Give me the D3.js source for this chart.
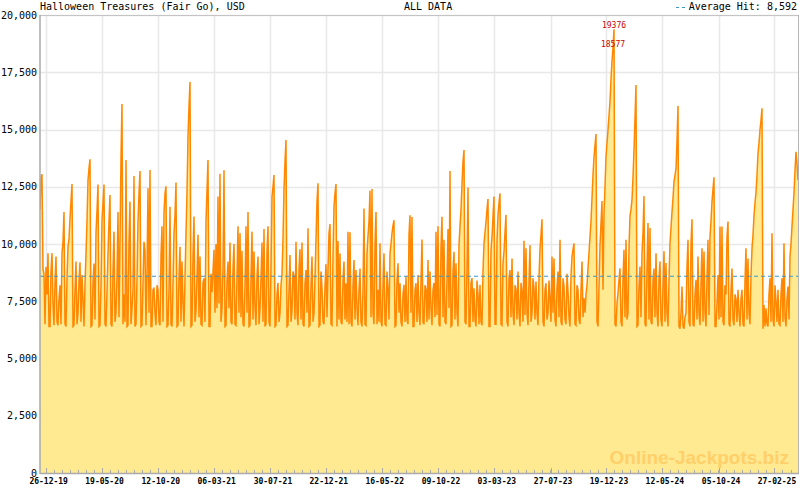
<!DOCTYPE html>
<html><head><meta charset="utf-8">
<script src="https://cdn.jsdelivr.net/npm/d3@7"></script>
<style>body{margin:0;background:#fff}</style>
</head><body>
<svg id="chart" width="800" height="490"></svg>
<script>
const chartTitle = "Halloween Treasures (Fair Go), USD";
const rangeLabel = "ALL DATA";
const averageHit = 8592;
const averageLabel = "Average Hit: 8,592";
const watermark = "Online-Jackpots.biz";
const startDate = "2019-12-10";
const endDate = "2025-04-29";
const xTickDates = ["2019-12-26","2020-05-19","2020-10-12","2021-03-06","2021-07-30","2021-12-22","2022-05-16","2022-10-09","2023-03-03","2023-07-27","2023-12-19","2024-05-12","2024-10-05","2025-02-27"];
const xTickLabels = ["26-12-19","19-05-20","12-10-20","06-03-21","30-07-21","22-12-21","16-05-22","09-10-22","03-03-23","27-07-23","19-12-23","12-05-24","05-10-24","27-02-25"];
const yTicks = [0,2500,5000,7500,10000,12500,15000,17500,20000];
const yTickLabels = ["0","2,500","5,000","7,500","10,000","12,500","15,000","17,500","20,000"];
const values = [
11500,12900,13050,8900,8700,6500,9000,7800,9600,6400,6400,8800,9600,7400,6450,8300,9450,6600,6450,7600,
8200,6500,9600,10100,11400,6500,6400,8500,9900,10200,11150,11850,12620,6400,6450,8000,9230,6500,7000,8400,
9200,6600,8650,7600,6400,8200,9600,11000,12790,13300,13700,6400,6450,8300,9150,6700,10500,11460,12600,6400,
6450,8200,11000,11800,12600,6500,6400,7900,9600,11000,12140,6500,6400,8800,10540,6600,7000,8600,11400,6800,
10140,13810,16110,6500,7800,6600,13670,6400,6450,10140,11850,6500,7200,8000,12970,6400,6500,8500,11000,12200,
13190,6400,6450,8300,10100,9700,6450,8800,12430,7000,13230,6400,6400,8000,8100,7000,6450,8200,8000,6600,
6450,9520,10770,6600,11400,12200,12520,6400,6450,8000,11630,6500,6400,8300,10470,11270,12680,6400,6450,8600,
9880,6600,9230,7500,6400,8500,10470,12250,14690,16000,17075,6400,6450,9520,11200,6600,7100,8600,10400,6800,
9450,6500,6450,8300,8500,6600,11000,12330,13670,6400,6400,8700,7900,8800,9750,7000,10000,7200,12070,7400,
13070,6600,7200,9000,13220,6400,6450,8400,9230,7200,10070,6600,6500,8900,10000,6500,6450,8600,10770,7000,
10470,6800,9710,6500,6400,8200,10770,7000,11400,6400,6450,8500,10540,6700,9670,7200,6450,8600,9450,6500,
7200,8500,10070,6600,10650,6400,6500,9670,10770,6600,6400,9000,12070,12500,13010,6400,6450,7800,8300,6600,
7000,8200,8700,10200,12400,13600,14540,6400,6450,8000,9520,6600,7100,8800,8600,6700,10100,7000,6450,8900,
9770,6700,10070,6500,6400,8300,8860,7000,10690,6400,6450,8200,9450,6600,7000,8500,10230,11870,12650,6400,
6450,8800,8070,6600,6500,8200,9120,6800,8860,10470,10870,6500,6450,9450,11640,12200,12620,6400,10130,6700,
9590,6600,6500,8400,9230,6700,8290,6600,10540,6500,10510,6600,6400,8200,9300,6700,8860,7200,6450,8000,
8930,6600,6400,8000,11550,6500,6450,9590,10350,11000,12330,6800,12400,7000,6500,10000,11400,6500,8000,6600,
10030,6600,6400,8200,9590,6500,6450,8800,8000,6700,9590,10000,10470,10800,11040,6400,6450,8400,9160,7000,
8290,6600,6400,7800,8220,6600,8580,6700,6500,10400,11250,7000,11180,6400,6400,8000,8290,6600,8650,7000,
6450,8400,10200,6600,6500,8200,8000,6600,9300,6700,8800,7200,6450,8000,8300,6800,10540,6900,10780,6500,
6400,9880,11190,6800,10190,6600,6500,8500,10650,7200,13190,6400,6450,8800,9660,6700,9160,7000,6400,9950,
10780,11500,12620,13590,14100,6600,6500,9000,12470,6400,6400,8300,8510,6600,8070,6700,6400,8400,7800,6500,
8220,6600,6450,8800,10030,10500,10970,11500,11960,6400,6400,9740,10320,11200,12070,6500,6500,10140,11270,11800,
12210,6500,6450,9160,9670,10500,11270,6600,6400,8500,8860,6800,9370,7000,6450,8200,8000,6700,8800,7000,
6400,8300,7900,6600,10140,6900,9810,7000,6450,8400,9950,6600,7000,8500,8070,6700,8360,7000,6450,8500,
9810,10400,11080,6600,6400,8000,8290,6700,7000,8400,7550,6600,9450,7000,9370,6700,6400,8100,8800,6800,
10180,6600,6450,8500,8150,6700,6500,8700,7930,6800,6400,8600,9450,9750,10030,6500,6450,8200,8000,6700,
6500,8000,9240,6800,7640,7000,7790,8200,8930,9600,10320,11000,12000,13010,13800,14300,14800,6600,6400,8140,
9950,10900,11880,8000,11340,12500,13810,14400,14980,15600,16215,17200,18000,18577,19376,6500,6400,7400,7850,8440,
8940,6600,6400,8500,9750,6800,10180,6700,7000,9800,11230,11500,11940,12900,14100,15500,16940,6400,6450,8150,
9020,6800,9600,10500,12090,6500,6400,9000,10920,6700,10700,6600,6500,8400,8930,6800,9600,7000,6400,8500,
9240,6700,6400,8200,9680,6600,9170,7000,6400,8400,10030,10700,11410,12000,12720,13000,13290,14500,16030,6400,
6300,7000,8140,6400,6300,6800,7000,9000,10180,6600,6400,10000,11080,6500,6400,7800,8440,6700,9450,7000,
6450,8300,9810,6600,9670,7000,6400,8500,10180,6900,10320,11000,11850,12400,12910,6400,6400,7400,8650,6700,
10760,6800,10760,6600,6450,8200,7800,10320,10980,6500,6400,8000,8930,6700,6450,7800,7600,6600,8000,7000,
6400,7600,8000,6500,6400,8400,9810,6700,9370,7000,6500,8600,9810,10400,11230,11800,12250,13000,13960,14400,
14990,15400,15930,6300,7330,6400,7190,6500,6400,7800,8500,6600,10470,6700,6400,8200,7500,6600,8000,6500,
6450,7800,8500,6600,10030,6800,6400,7600,8140,6700,9450,10000,10780,11500,12250,13200,14030,13500,12800
];

const svg = d3.select("#chart");
const W = 800, H = 490;
const L = 40, R = 798, T = 15, B = 473;
const mono = "'DejaVu Sans Mono', monospace";
const parse = d3.utcParse("%Y-%m-%d");
const t0 = parse(startDate), t1 = parse(endDate);
const n = values.length;
const dates = d3.range(n).map(i => new Date(+t0 + i * (t1 - t0) / (n - 1)));
const data = values.map((v, i) => ({date: dates[i], value: v}));

const x = d3.scaleUtc().domain([t0, t1]).range([L, R]);
const y = d3.scaleLinear().domain([0, 20000]).range([B, T]);

svg.append("rect").attr("width", W).attr("height", H).attr("fill", "#fff");

// grid
const grid = svg.append("g");
grid.selectAll("line.h").data(yTicks.filter(d => d > 0)).join("line")
  .attr("x1", L).attr("x2", R).attr("y1", d => Math.round(y(d)) + 0.5).attr("y2", d => Math.round(y(d)) + 0.5)
  .attr("stroke", "#e8e8e8").attr("stroke-width", 1.5);
const majorDates = xTickDates.map(parse);
grid.selectAll("line.v").data(majorDates).join("line")
  .attr("x1", d => Math.round(x(d)) + 0.5).attr("x2", d => Math.round(x(d)) + 0.5)
  .attr("y1", T).attr("y2", B).attr("stroke", "#e8e8e8").attr("stroke-width", 1.5);

// area + line
svg.append("defs").append("clipPath").attr("id", "clip")
  .append("rect").attr("x", L).attr("y", T).attr("width", R - L).attr("height", B - T);
const plot = svg.append("g").attr("clip-path", "url(#clip)");
plot.append("path").datum(data)
  .attr("d", d3.area().x(d => x(d.date)).y0(y(0)).y1(d => y(d.value)))
  .attr("fill", "#ffe991");
plot.append("path").datum(data)
  .attr("d", d3.line().x(d => x(d.date)).y(d => y(d.value)))
  .attr("fill", "none").attr("stroke", "#ff8800").attr("stroke-width", 1.5);

// watermark
svg.append("text").attr("x", 789).attr("y", 464).attr("text-anchor", "end")
  .attr("font-family", "'Liberation Sans', Arial, sans-serif").attr("font-weight", "bold")
  .attr("font-size", 19).attr("fill", "#ffcf6a").text(watermark);

// average line
svg.append("line").attr("x1", L).attr("x2", R).attr("y1", y(averageHit)).attr("y2", y(averageHit))
  .attr("stroke", "#3b95c8").attr("stroke-width", 1).attr("stroke-dasharray", "4,3");

// frame
svg.append("line").attr("x1", L).attr("x2", R).attr("y1", T + 0.5).attr("y2", T + 0.5).attr("stroke", "#c4c4c4");
svg.append("line").attr("x1", R + 0.5).attr("x2", R + 0.5).attr("y1", T).attr("y2", B).attr("stroke", "#b4b4b4");
svg.append("line").attr("x1", L).attr("x2", L).attr("y1", T).attr("y2", B + 1).attr("stroke", "#aaa").attr("stroke-width", 1.5);
svg.append("line").attr("x1", L).attr("x2", R + 1).attr("y1", B + 0.5).attr("y2", B + 0.5).attr("stroke", "#aaa").attr("stroke-width", 1.5);

// x ticks (minor every 1/7 interval)
const minorStep = (majorDates[majorDates.length - 1] - majorDates[0]) / ((majorDates.length - 1) * 7);
const minorDates = d3.range(-1, (majorDates.length - 1) * 7 + 4).map(k => new Date(+majorDates[0] + k * minorStep))
  .filter(d => x(d) > L + 1 && x(d) < R);
svg.append("g").selectAll("line").data(minorDates).join("line")
  .attr("x1", d => Math.round(x(d)) + 0.5).attr("x2", d => Math.round(x(d)) + 0.5)
  .attr("y1", B).attr("y2", B - 3).attr("stroke", "#aaa");
svg.append("g").selectAll("line").data(majorDates).join("line")
  .attr("x1", d => Math.round(x(d)) + 0.5).attr("x2", d => Math.round(x(d)) + 0.5)
  .attr("y1", B).attr("y2", B - 5).attr("stroke", "#aaa");
svg.append("g").selectAll("text").data(majorDates).join("text")
  .attr("x", d => x(d) + 2.5).attr("y", 484).attr("text-anchor", "middle")
  .attr("font-family", mono).attr("font-size", 8).attr("font-weight", "bold").attr("fill", "#000")
  .text((d, i) => xTickLabels[i]);

// y labels
svg.append("g").selectAll("text").data(yTicks).join("text")
  .attr("x", 37).attr("y", d => y(d)).attr("dy", "0.35em").attr("text-anchor", "end")
  .attr("font-family", mono).attr("font-size", 10).attr("fill", "#000")
  .text((d, i) => yTickLabels[i]);

// titles
svg.append("text").attr("x", 40).attr("y", 10).attr("font-family", mono).attr("font-size", 10)
  .attr("fill", "#000").text(chartTitle);
svg.append("text").attr("x", 404).attr("y", 10).attr("font-family", mono).attr("font-size", 10)
  .attr("fill", "#000").text(rangeLabel);
svg.append("text").attr("x", 797).attr("y", 10).attr("text-anchor", "end").attr("font-family", mono).attr("font-size", 10)
  .attr("fill", "#000").text(averageLabel);
svg.append("line").attr("x1", 676).attr("x2", 688).attr("y1", 7.5).attr("y2", 7.5)
  .attr("stroke", "#3b95c8").attr("stroke-dasharray", "3,3");

// top-2 annotations
const top2 = data.slice().sort((a, b) => b.value - a.value).slice(0, 2);
svg.append("g").selectAll("text").data(top2).join("text")
  .attr("x", d => x(d.date)).attr("y", d => y(d.value) - 1).attr("text-anchor", "middle")
  .attr("font-family", mono).attr("font-size", 8).attr("fill", "#cc0000")
  .text(d => d.value);
</script>
</body></html>
